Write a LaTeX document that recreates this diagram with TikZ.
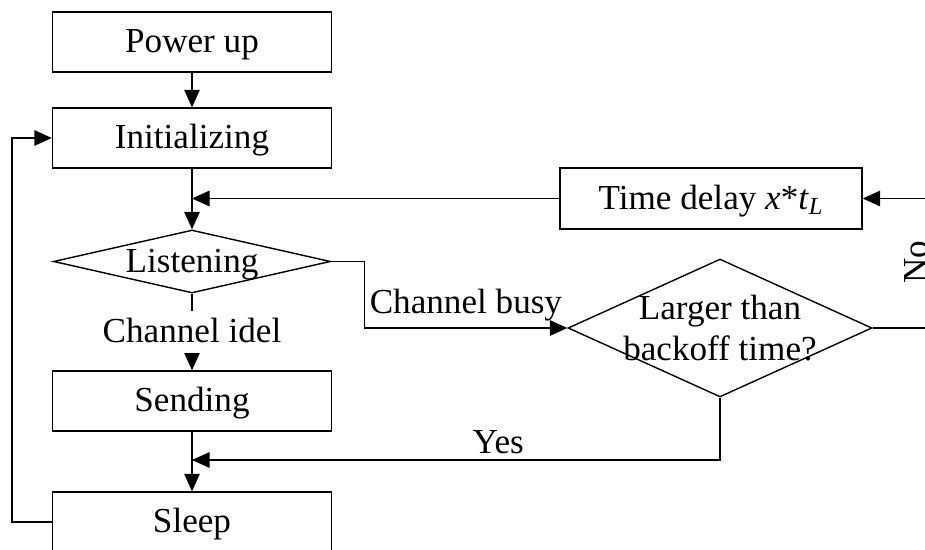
\documentclass[tikz,border=0pt]{standalone}
\usepackage{fontspec}
\setmainfont{Liberation Serif}
\usetikzlibrary{arrows.meta,shapes.geometric}
\tikzset{
	txt/.style={font=\fontsize{20}{23.5}\selectfont},
	mid/.style={text height=15pt, text depth=3pt},
	box/.style={draw, mid, line width=0.8pt, minimum width=5.58cm, minimum height=1.2cm, inner sep=0pt},
	decide/.style={draw, diamond, line width=0.8pt, inner sep=0pt},
	conn/.style={line width=0.8pt},
	arr/.style={line width=0.8pt, -{Triangle[length=0.35cm,width=0.31cm]}},
}

\begin{document}
\begin{tikzpicture}[x=0.02cm, y=-0.02cm, every node/.append style={txt}]
		%%%%% START %%%%%
		\useasboundingbox (0,0) rectangle (925,550);
		
		\node[box] (power) at (192,42) {Power up};
		\node[box] (init) at (192,138) {Initializing};
		\node[decide, minimum width=5.54cm, minimum height=1.26cm, label={[mid]center:Listening}] (listen) at (192,261.5) {};
		\node[box] (send) at (192,401) {Sending};
		\node[box] (sleep) at (192,522) {Sleep};
		
		\node[box, minimum width=6.04cm, minimum height=1.22cm] (delay) at (711,198.5) {Time delay \textit{x}*\textit{t}\textsubscript{\textit{L}}};
		\node[decide, minimum width=6.08cm, minimum height=2.76cm, label={[align=center]center:Larger than\\backoff time?}] (larger) at (720,328) {};
		\node[rotate=90, anchor=north, inner sep=0pt] (no) at (904,262) {No};
		
		\coordinate (back) at (12,330);
		\coordinate (bend) at (364.5,295);
		\coordinate (turn) at (950,262);
		\coordinate (meet) at (192,460);
		
		\draw[arr] (power) -- (init);
		\draw[arr] (init) -- (listen);
		\draw[arr] (delay.west) -- (delay.west -| init);
		\draw[arr] (listen) -- node[fill=white, mid, inner xsep=2pt, inner ysep=0.1cm] (idle) {Channel idel} (send);
		\draw[arr] (send) -- (sleep);
		\draw[arr] (sleep.west) -| (back) |- (init.west);
		
		\draw[arr] (listen.east) -| (bend) |- node[above, pos=0.75] (busy) {Channel busy} (larger.west);
		\draw[arr] (larger.east) -| (turn) |- (delay.east);
		\draw[arr] (larger.south) |- node[above, pos=0.71] (yes) {Yes} (meet);
		
		%%%%% END %%%%%
\end{tikzpicture}
\end{document}
